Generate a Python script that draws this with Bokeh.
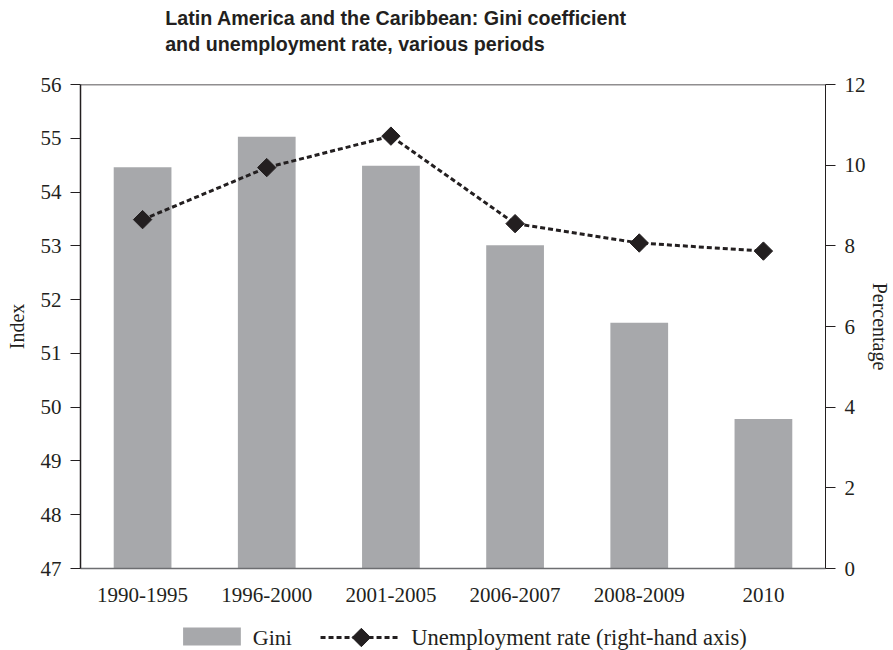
import numpy as np
from bokeh.plotting import figure
from bokeh.layouts import column
from bokeh.models import (ColumnDataSource, FactorRange, Range1d, LinearAxis,
                          Span, FixedTicker)
from bokeh.core.properties import value
from bokeh.embed import file_html
from bokeh.resources import INLINE

# Periods, Gini index (left axis) and unemployment rate in % (right axis)
periods = ["1990-1995", "1996-2000", "2001-2005", "2006-2007", "2008-2009", "2010"]
gini = [54.46, 55.03, 54.49, 53.01, 51.57, 49.78]
unemployment = [8.65, 9.94, 10.72, 8.55, 8.07, 7.87]

left_ticks = [47, 48, 49, 50, 51, 52, 53, 54, 55, 56]
right_ticks = [0, 2, 4, 6, 8, 10, 12]

title_lines = ["Latin America and the Caribbean: Gini coefficient",
               "and unemployment rate, various periods"]
gini_label = "Gini"
unemp_label = "Unemployment rate (right-hand axis)"

SERIF = "Liberation Serif"
SANS = "Liberation Sans"
BAR_COLOR = "#a7a8ab"
INK = "#231f20"
DASH = "5 3"

W = 893
BORDER_L, BORDER_R = 80, 65
FRAME_X = (BORDER_L, W - BORDER_R)   # frame spans these page pixels


def strip(height):
    """A blank pixel-scaled figure whose data x equals page x."""
    f = figure(width=W, height=height, x_range=Range1d(*FRAME_X),
               y_range=Range1d(0, height), output_backend="svg",
               toolbar_location=None, tools="",
               min_border_left=BORDER_L, min_border_right=BORDER_R,
               min_border_top=0, min_border_bottom=0)
    f.axis.visible = False
    f.grid.visible = False
    f.outline_line_color = None
    return f


# Title strip
TITLE_H = 60
tf = strip(TITLE_H)
tf.text(x=[165, 165], y=[TITLE_H - 17, TITLE_H - 43], text=title_lines,
        text_font=value(SANS), text_font_style="bold",
        text_font_size="19.7px", text_color=INK, text_baseline="middle")

# Main chart
LEG_H = 38
src = ColumnDataSource(dict(period=periods, gini=gini, unemp=unemployment))

p = figure(width=W, height=650 - TITLE_H - LEG_H, x_range=FactorRange(*periods),
           y_range=Range1d(47, 56), output_backend="svg",
           toolbar_location=None, tools="",
           min_border_left=BORDER_L, min_border_right=BORDER_R,
           min_border_top=84 - TITLE_H, min_border_bottom=44)
p.extra_y_ranges = {"pct": Range1d(0, 12)}

p.outline_line_color = None
p.xgrid.grid_line_color = None
p.ygrid.grid_line_color = None
p.x_range.range_padding = 0
p.x_range.group_padding = 0

# Gini bars on the left axis
p.vbar(x="period", top="gini", bottom=47, width=0.465, source=src,
       fill_color=BAR_COLOR, line_color=None)

# Unemployment line with diamond markers on the right axis
p.line(x="period", y="unemp", source=src, y_range_name="pct",
       line_color=INK, line_width=3, line_dash=DASH)
p.scatter(x="period", y="unemp", source=src, y_range_name="pct",
          marker="square", angle=np.pi / 4, size=13,
          fill_color=INK, line_color=INK)

# Top border of the frame
p.add_layout(Span(location=56, dimension="width", line_color=INK, line_width=1.5))

# Left axis
ya = p.yaxis[0]
ya.ticker = FixedTicker(ticks=left_ticks)
ya.axis_label = "Index"
ya.axis_label_text_font = SERIF
ya.axis_label_text_font_style = "normal"
ya.axis_label_text_font_size = "20px"
ya.axis_label_text_color = INK
ya.axis_label_standoff = 10
ya.major_label_text_font = SERIF
ya.major_label_text_font_size = "21px"
ya.major_label_text_color = INK
ya.major_label_standoff = 9
ya.major_tick_in = 0
ya.major_tick_out = 10
ya.minor_tick_line_color = None
ya.axis_line_color = INK
ya.axis_line_width = 1.5
ya.major_tick_line_color = INK

# Right axis
ra = LinearAxis(y_range_name="pct", ticker=FixedTicker(ticks=right_ticks))
ra.axis_label = "Percentage"
ra.axis_label_text_font = SERIF
ra.axis_label_text_font_style = "normal"
ra.axis_label_text_font_size = "20px"
ra.axis_label_text_color = INK
ra.axis_label_standoff = 0
ra.major_label_text_font = SERIF
ra.major_label_text_font_size = "21px"
ra.major_label_text_color = INK
ra.major_label_standoff = 9
ra.major_tick_in = 0
ra.major_tick_out = 10
ra.minor_tick_line_color = None
ra.axis_line_color = INK
ra.major_tick_line_color = INK
p.add_layout(ra, "right")

# Category axis
xa = p.xaxis[0]
xa.major_label_text_font = SERIF
xa.major_label_text_font_size = "21px"
xa.major_label_text_color = INK
xa.major_label_standoff = 13
xa.major_tick_line_color = None
xa.minor_tick_line_color = None
xa.axis_line_color = "#6d6e71"
xa.axis_line_width = 1.5

# Legend strip under the chart
lg = strip(LEG_H)
lg.quad(left=183, right=241, bottom=5, top=23,
        fill_color=BAR_COLOR, line_color=None)
lg.text(x=[253], y=[13], text=[gini_label], text_font=value(SERIF),
        text_font_size="22px", text_color=INK, text_baseline="middle")
lg.line(x=[321, 401], y=[13, 13], line_color=INK, line_width=3,
        line_dash=DASH)
lg.scatter(x=[362], y=[13], marker="square", angle=np.pi / 4, size=13,
           fill_color=INK, line_color=INK)
lg.text(x=[412], y=[13], text=[unemp_label], text_font=value(SERIF),
        text_font_size="22.5px", text_color=INK, text_baseline="middle")

open("out.html", "w").write(file_html(column(tf, p, lg, spacing=0), INLINE))
